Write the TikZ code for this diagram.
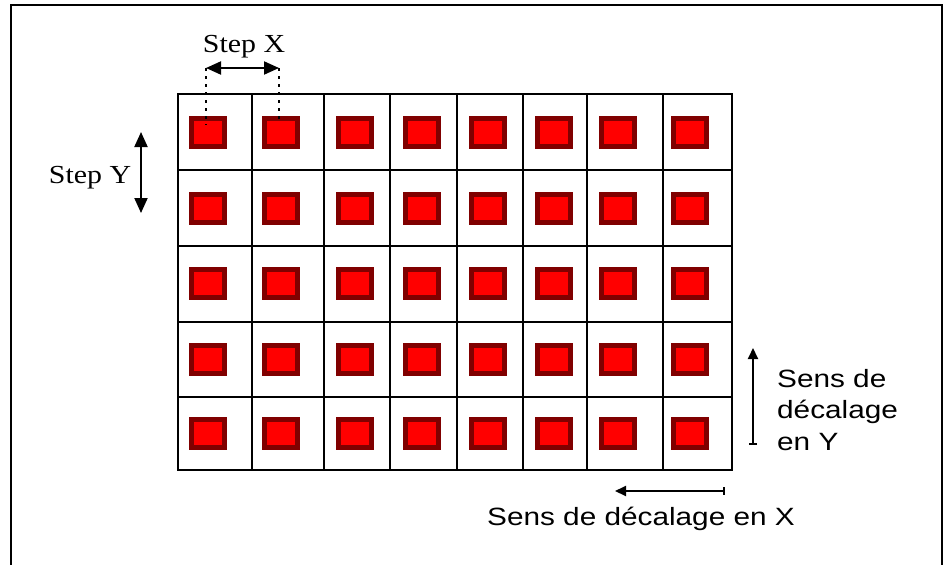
\documentclass[tikz,border=0pt]{standalone}
\usepackage{fontspec}
\setmainfont{Liberation Serif}
\setsansfont{Liberation Sans}
\usetikzlibrary{arrows.meta}
\definecolor{cellred}{HTML}{FF0000}
\definecolor{celldark}{HTML}{800000}
\newcommand\hwide[1]{\scalebox{1.19}[1]{#1}}
\newcommand\swide[1]{\scalebox{1.15}[1]{#1}}
\begin{document}
\begin{tikzpicture}[x=1pt,y=-1pt,
  frameline/.style={line width=2.2pt,black},
  gridline/.style={line width=2pt,black},
  chip/.style={draw=celldark,fill=cellred,line width=5pt,minimum width=33pt,minimum height=28pt,inner sep=0pt},
  serlab/.style={font=\fontsize{26}{30}\selectfont,inner sep=0pt,anchor=base},
  sanslab/.style={font=\sffamily\fontsize{25}{30}\selectfont,inner sep=0pt,anchor=base west},
  bigarrow/.style={line width=2pt,{Triangle[length=15pt,width=13pt]}-{Triangle[length=15pt,width=13pt]}},
  dirarrow/.style={line width=2pt,{Bar[width=8pt]}-{Triangle[length=11pt,width=10pt]}},
  dotline/.style={line width=2pt,dash pattern=on 3pt off 5pt}
]
\useasboundingbox (0,0) rectangle (948,565);
% outer frame (bottom edge lies below the picture)
\draw[frameline] (11,580) -- (11,5) -- (942,5) -- (942,580);
% grid
\draw[gridline] (178,94) rectangle (732,470);
\foreach \gx in {252,324,390,457,523,587,663}
  \draw[gridline] (\gx,94) -- (\gx,470);
\foreach \gy in {170,246,322,397}
  \draw[gridline] (178,\gy) -- (732,\gy);
% chips
\foreach \cy [count=\r] in {132.5,208.5,283.5,359.5,433.5}
  \foreach \cx [count=\c] in {208,281,355,422,488,554,618,690}
    \node[chip] (chip-\r-\c) at (\cx,\cy) {};
% Step X
\coordinate (sxl) at (206,68);
\coordinate (sxr) at (279,68);
\coordinate (sxlb) at (206,125);
\coordinate (sxrb) at (279,122);
\draw[bigarrow] (sxl) -- (sxr);
\draw[dotline] (sxl) -- (sxlb);
\draw[dotline] (sxr) -- (sxrb);
\node[serlab] (stepx) at (244,52) {\swide{Step X}};
% Step Y
\coordinate (syt) at (141,132);
\coordinate (syb) at (141,213);
\draw[bigarrow] (syt) -- (syb);
\node[serlab] (stepy) at (90,183) {\swide{Step Y}};
% direction Y
\coordinate (dyb) at (753,445);
\coordinate (dyt) at (753,348);
\draw[dirarrow] (dyb) -- (dyt);
\node[sanslab] (sensy1) at (777,387) {\hwide{Sens de}};
\node[sanslab] (sensy2) at (777,418.5) {\hwide{décalage}};
\node[sanslab] (sensy3) at (777,450) {\hwide{en Y}};
% direction X
\coordinate (dxr) at (725,491);
\coordinate (dxl) at (615,491);
\draw[dirarrow] (dxr) -- (dxl);
\node[sanslab] (sensx) at (487,525) {\hwide{Sens de décalage en X}};
\end{tikzpicture}
\end{document}
